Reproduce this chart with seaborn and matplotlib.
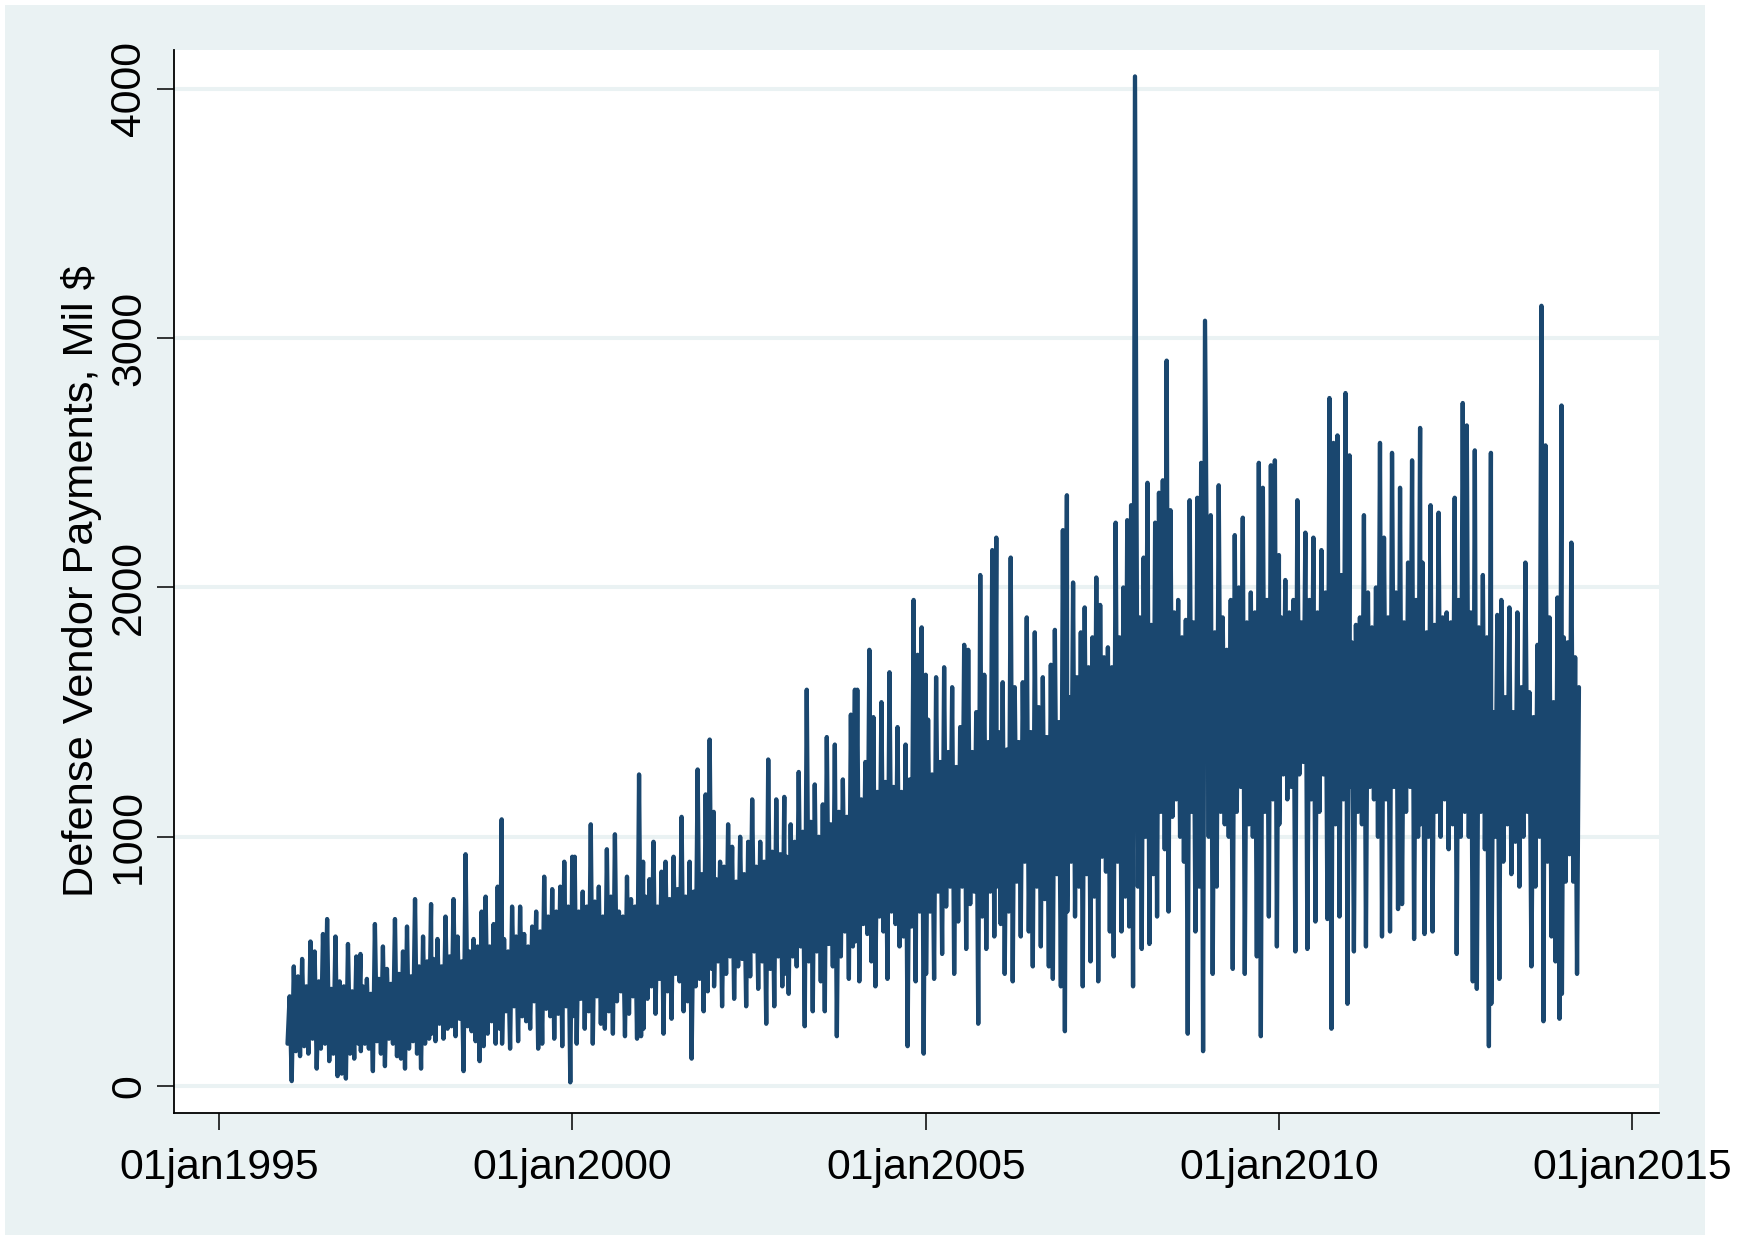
import numpy as np
import pandas as pd
import matplotlib
matplotlib.use("Agg")
import matplotlib.pyplot as plt
from matplotlib.patches import Rectangle
import seaborn as sns

# Upper and lower swings of the payments
peaks_1996 = [360, 480, 440, 510, 400, 580, 540, 420, 610, 670, 390, 600, 420, 400, 570, 380, 520, 530]
dips_1996 = [170, 20, 140, 120, 160, 130, 190, 70, 150, 170, 100, 130, 40, 50, 30, 130, 110, 170]
peaks_1997 = [400, 430, 370, 650, 430, 560, 470, 410, 670, 450, 540, 640, 440, 750, 480, 600, 500, 730]
dips_1997 = [140, 170, 150, 60, 180, 130, 80, 190, 170, 120, 110, 70, 150, 180, 130, 70, 170, 190]
peaks_1998 = [510, 590, 480, 680, 520, 750, 600, 500, 930, 540, 590, 560, 700, 760, 560, 650, 800, 1070]
dips_1998 = [210, 180, 250, 190, 230, 240, 200, 270, 60, 240, 220, 180, 100, 160, 210, 260, 170, 230]
peaks_1999 = [590, 540, 720, 600, 720, 610, 560, 640, 700, 620, 840, 680, 790, 700, 800, 900, 720, 920]
dips_1999 = [170, 300, 150, 320, 180, 280, 260, 230, 340, 150, 170, 310, 280, 190, 290, 160, 320, 15]
peaks_2000 = [920, 700, 780, 720, 1050, 740, 800, 680, 950, 760, 1010, 700, 680, 840, 750, 720, 1250, 900]
dips_2000 = [280, 170, 350, 230, 300, 170, 360, 250, 230, 300, 210, 340, 380, 200, 290, 360, 190, 200]
peaks_2001 = [760, 830, 980, 720, 860, 900, 750, 920, 790, 1080, 760, 900, 780, 1270, 850, 1170, 1390, 1100]
dips_2001 = [230, 350, 400, 290, 430, 210, 380, 270, 450, 420, 300, 340, 110, 400, 430, 300, 380, 470]
peaks_2002 = [830, 900, 880, 1050, 960, 820, 1000, 850, 980, 1150, 880, 980, 900, 1310, 940, 1150, 930, 1160]
dips_2002 = [400, 500, 320, 450, 520, 350, 480, 510, 320, 440, 540, 390, 500, 250, 470, 320, 520, 400]
peaks_2003 = [920, 1050, 980, 1260, 1020, 1590, 1060, 1210, 1000, 1130, 1400, 1050, 1370, 1100, 1230, 1080, 1490, 1590]
dips_2003 = [450, 370, 520, 480, 560, 240, 500, 300, 540, 420, 300, 570, 480, 200, 520, 620, 430, 560]
peaks_2004 = [1590, 1150, 1300, 1750, 1480, 1180, 1540, 1220, 1660, 1200, 1440, 1180, 1370, 1230, 1950, 1730, 1840, 1650]
dips_2004 = [580, 420, 650, 610, 500, 400, 680, 620, 430, 700, 650, 560, 600, 160, 640, 420, 700, 130]
peaks_2005 = [1470, 1250, 1640, 1300, 1680, 1340, 1600, 1280, 1440, 1770, 1750, 1340, 1500, 2050, 1650, 1380, 2150, 2200]
dips_2005 = [450, 700, 430, 780, 530, 720, 800, 450, 660, 800, 550, 730, 780, 250, 680, 550, 780, 600]
peaks_2006 = [1420, 1620, 1350, 2120, 1600, 1380, 1620, 1880, 1420, 1820, 1520, 1640, 1400, 1690, 1830, 1460, 2230, 2370]
dips_2006 = [800, 650, 450, 700, 420, 820, 600, 900, 620, 480, 800, 560, 750, 480, 430, 850, 400, 220]
peaks_2007 = [1560, 2020, 1640, 1820, 1920, 1680, 1800, 2040, 1930, 1720, 1760, 1680, 2260, 1800, 2000, 2270, 2330, 4050]
dips_2007 = [700, 900, 680, 800, 400, 850, 500, 760, 420, 920, 860, 620, 520, 900, 620, 760, 640, 400]
peaks_2008 = [1880, 2120, 2420, 1850, 2260, 2380, 2430, 2910, 2310, 1900, 1950, 1800, 1870, 2350, 1860, 2360, 2500, 3070]
dips_2008 = [800, 550, 1000, 570, 850, 680, 1100, 950, 700, 1080, 1150, 1000, 900, 210, 1100, 620, 800, 140]
peaks_2009 = [2290, 1820, 2410, 1880, 1750, 1950, 2210, 2000, 2280, 1860, 1980, 1900, 2500, 2400, 1950, 2490, 2510, 2130]
dips_2009 = [1000, 450, 800, 1100, 1050, 1000, 470, 1100, 1200, 450, 1050, 1000, 520, 200, 1100, 680, 1150, 560]
peaks_2010 = [1880, 2030, 1900, 1950, 2350, 1860, 2220, 1950, 2200, 1900, 2150, 1980, 2760, 2580, 2610, 2050, 2780, 2530]
dips_2010 = [1050, 1250, 1150, 1200, 540, 1250, 1300, 550, 1150, 660, 1100, 1250, 670, 230, 1050, 680, 1150, 330]
peaks_2011 = [1780, 1850, 1880, 2290, 1980, 1840, 2000, 2580, 2200, 1880, 2540, 1980, 2400, 1860, 2100, 2510, 1950, 2640]
dips_2011 = [1200, 540, 1100, 1050, 560, 1200, 1150, 1000, 600, 1150, 620, 1200, 710, 730, 1100, 1200, 590, 1000]
peaks_2012 = [2100, 1820, 2330, 1850, 2300, 1880, 1900, 1860, 2360, 1950, 2740, 2650, 1900, 2550, 1840, 2050, 1800, 2540]
dips_2012 = [1050, 610, 1000, 620, 1100, 1000, 1150, 950, 1050, 530, 1000, 1100, 1000, 420, 390, 1100, 950, 160]
peaks_2013 = [1500, 1890, 1950, 1560, 1920, 1500, 1900, 1600, 2100, 1580, 1480, 1770, 3130, 2570, 1880, 1540, 1960, 2730]
dips_2013 = [330, 1000, 430, 900, 1050, 850, 980, 800, 1000, 1100, 480, 800, 1000, 260, 900, 600, 500, 270]
peaks_2014 = [1800, 1780, 2180, 1720, 1600]
dips_2014 = [370, 820, 930, 820, 450]

years = [
    (1996, peaks_1996, dips_1996), (1997, peaks_1997, dips_1997), (1998, peaks_1998, dips_1998),
    (1999, peaks_1999, dips_1999), (2000, peaks_2000, dips_2000), (2001, peaks_2001, dips_2001),
    (2002, peaks_2002, dips_2002), (2003, peaks_2003, dips_2003), (2004, peaks_2004, dips_2004),
    (2005, peaks_2005, dips_2005), (2006, peaks_2006, dips_2006), (2007, peaks_2007, dips_2007),
    (2008, peaks_2008, dips_2008), (2009, peaks_2009, dips_2009), (2010, peaks_2010, dips_2010),
    (2011, peaks_2011, dips_2011), (2012, peaks_2012, dips_2012), (2013, peaks_2013, dips_2013),
    (2014, peaks_2014, dips_2014),
]

# Years whose last swing does not fall on new year's eve
last_dates = {2007: "2007-12-18", 2008: "2008-12-14", 2014: "2014-03-31"}

y_ticks = [0, 1000, 2000, 3000, 4000]
x_tick_years = [1995, 2000, 2005, 2010, 2015]

# Build the long table
frames = []
for year, peaks, dips in years:
    start = "1995-12-20" if year == 1996 else f"{year}-01-02"
    end = last_dates.get(year, f"{year}-12-31")
    values = np.column_stack((dips, peaks)).ravel()
    dates = pd.date_range(start, end, periods=len(values))
    frames.append(pd.DataFrame({"date": dates, "payments": values}))
data = pd.concat(frames, ignore_index=True)

sns.set_theme(style="ticks")
plt.rcParams["font.family"] = ["Liberation Sans", "DejaVu Sans"]

W, H = 1754, 1235
fig = plt.figure(figsize=(W / 100, H / 100), dpi=100, facecolor="white")
fig.patches.append(Rectangle((5 / W, 0), 1700 / W, 1 - 5 / H, transform=fig.transFigure,
                             facecolor="#eaf2f3", edgecolor="none", zorder=-1))
ax = fig.add_axes([174 / W, 1 - 1113 / H, (1659 - 174) / W, (1113 - 50) / H])
ax.set_facecolor("white")

sns.lineplot(data=data, x="date", y="payments", estimator=None, sort=False, ax=ax,
             color="#1a476f", linewidth=3.1, solid_capstyle="round", solid_joinstyle="round")

ax.set_xlim(pd.Timestamp("1994-05-12"), pd.Timestamp("2015-05-19"))
ax.set_ylim(-108, 4156)

ax.set_yticks(y_ticks)
ax.set_yticklabels([str(t) for t in y_ticks], rotation=90, va="center", fontsize=30.8, color="black")
ax.set_xticks([pd.Timestamp(f"{y}-01-01") for y in x_tick_years])
ax.set_xticklabels([f"01jan{y}" for y in x_tick_years], fontsize=30.8, color="black")
ax.tick_params(axis="both", length=12, width=1.1, color="black")
ax.tick_params(axis="y", pad=6)
ax.tick_params(axis="x", pad=13)

ax.grid(axis="y", color="#eaf2f3", linewidth=2.9)
ax.set_axisbelow(True)
ax.set_xlabel("")
ax.set_ylabel("Defense Vendor Payments, Mil $", fontsize=31.2, color="black", labelpad=5)

for side in ["top", "right"]:
    ax.spines[side].set_visible(False)
for side in ["left", "bottom"]:
    ax.spines[side].set_color("black")
    ax.spines[side].set_linewidth(1.3)

fig.savefig("out.png", dpi=100, facecolor="white")
